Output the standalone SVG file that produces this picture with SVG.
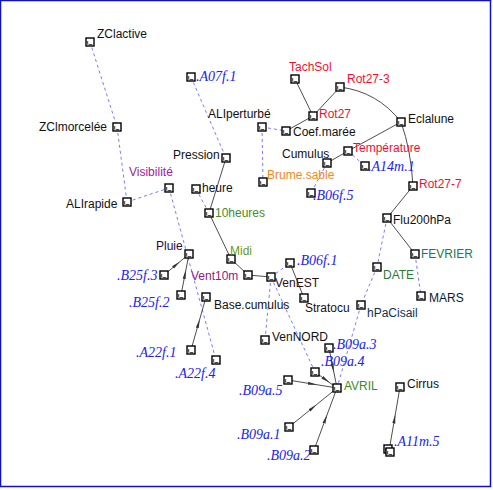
<svg xmlns="http://www.w3.org/2000/svg" width="493" height="490" viewBox="0 0 493 490">
<style>
.bx{fill:#fff;stroke:#000;stroke-width:1.4}
.sh{fill:none;stroke:#000;stroke-width:0.8}
.t{font-family:"Liberation Sans",Arial,sans-serif;font-size:12px;fill:#111}
.i{font-family:"Liberation Serif","Times New Roman",serif;font-size:14px;font-style:italic;fill:#2222ee}
.s{fill:none;stroke:#3a3a3a;stroke-width:0.9}
.d{fill:none;stroke:#6a6aff;stroke-width:0.9;stroke-dasharray:3,3}
.red{fill:#ee1133}.grn{fill:#2a7a3a}.pur{fill:#a020a0}.org{fill:#f08a20}
</style>
<defs>
<marker id="ar" viewBox="0 0 10 10" refX="5" refY="5" markerWidth="9" markerHeight="9" orient="auto" markerUnits="userSpaceOnUse">
<path d="M0,3.3 L10,5 L0,6.7 z" fill="#333"/>
</marker>
<g id="box"><rect class="bx" x="-4" y="-4" width="8" height="8"/><path class="sh" d="M-2.3,-1 L-2.3,2.6 M-1.3,2.6 L2.3,2.6"/></g>
</defs>
<rect x="0.5" y="0.5" width="490" height="486" fill="#fff" stroke="#1010cc" stroke-width="1.5"/>
<g id="connectors">
<line class="d" x1="90" y1="42" x2="117" y2="127"/>
<line class="d" x1="117" y1="127" x2="127" y2="202"/>
<line class="d" x1="127" y1="202" x2="169" y2="188"/>
<line class="d" x1="169" y1="188" x2="216" y2="360"/>
<line class="d" x1="191" y1="77" x2="226" y2="158"/>
<line class="d" x1="196" y1="189" x2="209" y2="213"/>
<line class="d" x1="262" y1="127" x2="286" y2="131"/>
<line class="d" x1="262" y1="127" x2="263" y2="182"/>
<line class="d" x1="327" y1="163" x2="311" y2="193"/>
<line class="d" x1="348" y1="151" x2="365" y2="166"/>
<line class="d" x1="387" y1="218" x2="377" y2="267"/>
<line class="d" x1="377" y1="267" x2="361" y2="305"/>
<line class="d" x1="361" y1="305" x2="337" y2="388"/>
<line class="d" x1="415" y1="254" x2="421" y2="296"/>
<line class="d" x1="271" y1="277" x2="290" y2="263"/>
<line class="d" x1="271" y1="277" x2="265" y2="340"/>
<line class="d" x1="271" y1="277" x2="315" y2="372"/>
<line class="s" x1="295" y1="79" x2="313" y2="116"/>
<line class="s" x1="340" y1="87" x2="313" y2="116"/>
<line class="s" x1="313" y1="116" x2="286" y2="131"/>
<path class="s" d="M340,87 Q378,92 401,122"/>
<line class="s" x1="401" y1="122" x2="348" y2="151"/>
<line class="s" x1="348" y1="151" x2="327" y2="163"/>
<path class="s" d="M401,122 Q411,150 413,186"/>
<line class="s" x1="413" y1="186" x2="387" y2="218"/>
<line class="s" x1="387" y1="218" x2="415" y2="254"/>
<line class="s" x1="226" y1="158" x2="209" y2="213"/>
<line class="s" x1="209" y1="213" x2="231" y2="259"/>
<line class="s" x1="231" y1="259" x2="248" y2="275"/>
<line class="s" x1="248" y1="275" x2="271" y2="277"/>
<line class="s" x1="290" y1="263" x2="304" y2="298"/>
<polyline class="s" points="164,275 176.5,264.5 189,254" marker-mid="url(#ar)"/>
<polyline class="s" points="181,295 185,274.5 189,254" marker-mid="url(#ar)"/>
<polyline class="s" points="191,350 198.5,323.5 206,297" marker-mid="url(#ar)"/>
<polyline class="s" points="329,348 333,368 337,388" marker-mid="url(#ar)"/>
<polyline class="s" points="315,372 326,380 337,388" marker-mid="url(#ar)"/>
<polyline class="s" points="288,380 312.5,384 337,388" marker-mid="url(#ar)"/>
<polyline class="s" points="289,427 313,407.5 337,388" marker-mid="url(#ar)"/>
<polyline class="s" points="314,450 325.5,419 337,388" marker-mid="url(#ar)"/>
<polyline class="s" points="389,451 394.5,419 400,387" marker-mid="url(#ar)"/>
</g>
<g id="n-ZClactive"><use href="#box" x="90" y="42"/><text class="t" x="97" y="38">ZClactive</text></g>
<g id="n-A07f1"><use href="#box" x="191" y="77"/><text class="i" x="196" y="81">.A07f.1</text></g>
<g id="n-ZClmorcelee"><use href="#box" x="117" y="127"/><text class="t" x="39" y="131">ZClmorcelée</text></g>
<g id="n-ALIperturbe"><use href="#box" x="262" y="127"/><text class="t" x="208" y="118">ALIperturbé</text></g>
<g id="n-Coefmaree"><use href="#box" x="286" y="131"/><text class="t" x="293" y="136">Coef.marée</text></g>
<g id="n-Rot27"><use href="#box" x="313" y="116"/><text class="t red" x="319" y="118">Rot27</text></g>
<g id="n-TachSol"><use href="#box" x="295" y="79"/><text class="t red" x="289" y="71">TachSol</text></g>
<g id="n-Rot27-3"><use href="#box" x="340" y="87"/><text class="t red" x="347" y="83">Rot27-3</text></g>
<g id="n-Eclalune"><use href="#box" x="401" y="122"/><text class="t" x="408" y="123">Eclalune</text></g>
<g id="n-Pression"><use href="#box" x="226" y="158"/><text class="t" x="173" y="159">Pression</text></g>
<g id="n-Cumulus"><use href="#box" x="327" y="163"/><text class="t" x="282" y="158">Cumulus</text></g>
<g id="n-Temperature"><use href="#box" x="348" y="151"/><text class="t red" x="353" y="152">Température</text></g>
<g id="n-A14m1"><use href="#box" x="365" y="166"/><text class="i" x="368" y="171">.A14m.1</text></g>
<g id="n-Visibilite"><use href="#box" x="169" y="188"/><text class="t pur" x="129" y="176">Visibilité</text></g>
<g id="n-heure"><use href="#box" x="196" y="189"/><text class="t" x="202" y="192">heure</text></g>
<g id="n-Brumesable"><use href="#box" x="263" y="182"/><text class="t org" x="267" y="179">Brume.sable</text></g>
<g id="n-B06f5"><use href="#box" x="311" y="193"/><text class="i" x="313" y="200">.B06f.5</text></g>
<g id="n-Rot27-7"><use href="#box" x="413" y="186"/><text class="t red" x="419" y="188">Rot27-7</text></g>
<g id="n-ALIrapide"><use href="#box" x="127" y="202"/><text class="t" x="66" y="208">ALIrapide</text></g>
<g id="n-10heures"><use href="#box" x="209" y="213"/><text class="t" x="215" y="217" style="fill:#4a8a2a">10heures</text></g>
<g id="n-Flu200hPa"><use href="#box" x="387" y="218"/><text class="t" x="393" y="224">Flu200hPa</text></g>
<g id="n-FEVRIER"><use href="#box" x="415" y="254"/><text class="t" x="421" y="258" style="fill:#1e7a4a">FEVRIER</text></g>
<g id="n-Pluie"><use href="#box" x="189" y="254"/><text class="t" x="156" y="250" style="fill:#2a0a3a">Pluie</text></g>
<g id="n-Midi"><use href="#box" x="231" y="259"/><text class="t" x="230" y="255" style="fill:#6a9a20">Midi</text></g>
<g id="n-B06f1"><use href="#box" x="290" y="263"/><text class="i" x="297" y="265">.B06f.1</text></g>
<g id="n-DATE"><use href="#box" x="377" y="267"/><text class="t grn" x="383" y="279">DATE</text></g>
<g id="n-Vent10m"><use href="#box" x="248" y="275"/><text class="t" x="191" y="280" style="fill:#902080">Vent10m</text></g>
<g id="n-VenEST"><use href="#box" x="271" y="277"/><text class="t" x="275" y="287" style="fill:#2a1010">VenEST</text></g>
<g id="n-B25f3"><use href="#box" x="164" y="275"/><text class="i" x="117" y="280">.B25f.3</text></g>
<g id="n-B25f2"><use href="#box" x="181" y="295"/><text class="i" x="129" y="307">.B25f.2</text></g>
<g id="n-MARS"><use href="#box" x="421" y="296"/><text class="t" x="429" y="302" style="fill:#0a1a30">MARS</text></g>
<g id="n-Basecumulus"><use href="#box" x="206" y="297"/><text class="t" x="214" y="309">Base.cumulus</text></g>
<g id="n-Stratocu"><use href="#box" x="304" y="298"/><text class="t" x="305" y="312">Stratocu</text></g>
<g id="n-hPaCisail"><use href="#box" x="361" y="305"/><text class="t" x="367" y="317" style="fill:#103050">hPaCisail</text></g>
<g id="n-VenNORD"><use href="#box" x="265" y="340"/><text class="t" x="272" y="341">VenNORD</text></g>
<g id="n-B09a3"><use href="#box" x="329" y="348"/><text class="i" x="333" y="349">.B09a.3</text></g>
<g id="n-A22f1"><use href="#box" x="191" y="350"/><text class="i" x="136" y="357">.A22f.1</text></g>
<g id="n-A22f4"><use href="#box" x="216" y="360"/><text class="i" x="175" y="378">.A22f.4</text></g>
<g id="n-B09a4"><use href="#box" x="315" y="372"/><text class="i" x="321" y="366">.B09a.4</text></g>
<g id="n-B09a5"><use href="#box" x="288" y="380"/><text class="i" x="239" y="395">.B09a.5</text></g>
<g id="n-AVRIL"><use href="#box" x="337" y="388"/><text class="t" x="344" y="390" style="fill:#3a8a2a">AVRIL</text></g>
<g id="n-Cirrus"><use href="#box" x="400" y="387"/><text class="t" x="407" y="388">Cirrus</text></g>
<g id="n-B09a1"><use href="#box" x="289" y="427"/><text class="i" x="237" y="439">.B09a.1</text></g>
<g id="n-B09a2"><use href="#box" x="314" y="450"/><text class="i" x="267" y="460">.B09a.2</text></g>
<g id="n-A11m5"><use href="#box" x="388" y="449"/><use href="#box" x="390" y="452"/><text class="i" x="394" y="446">.A11m.5</text></g>
</svg>
